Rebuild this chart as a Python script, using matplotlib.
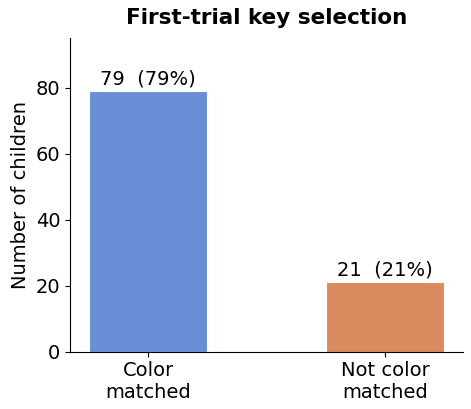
import matplotlib
matplotlib.use("Agg")
import matplotlib.pyplot as plt

categories = ["Color\nmatched", "Not color\nmatched"]
counts = [79, 21]
percents = [79, 21]
colors = ["#6A8FD6", "#D98A5E"]

fig, ax = plt.subplots(figsize=(4.71, 4.09), dpi=100)
x = range(len(categories))
bars = ax.bar(x, counts, width=0.5, color=colors, edgecolor="white", linewidth=0.8)

# value labels above bars
for xi, c, p in zip(x, counts, percents):
    ax.text(xi, c + 0.8, f"{c}  ({p}%)", ha="center", va="bottom", fontsize=14)

ax.set_xticks(list(x))
ax.set_xticklabels(categories, fontsize=14)
ax.tick_params(axis="y", labelsize=14)
ax.set_xlim(-0.33, 1.33)
ax.set_ylim(0, 95)
ax.set_ylabel("Number of children", fontsize=14)
ax.set_title("First-trial key selection", fontsize=15.5, fontweight="bold", pad=10)
ax.spines["top"].set_visible(False)
ax.spines["right"].set_visible(False)

fig.subplots_adjust(left=0.149, right=0.983, bottom=0.14, top=0.907)
fig.savefig("out.png", dpi=100)
